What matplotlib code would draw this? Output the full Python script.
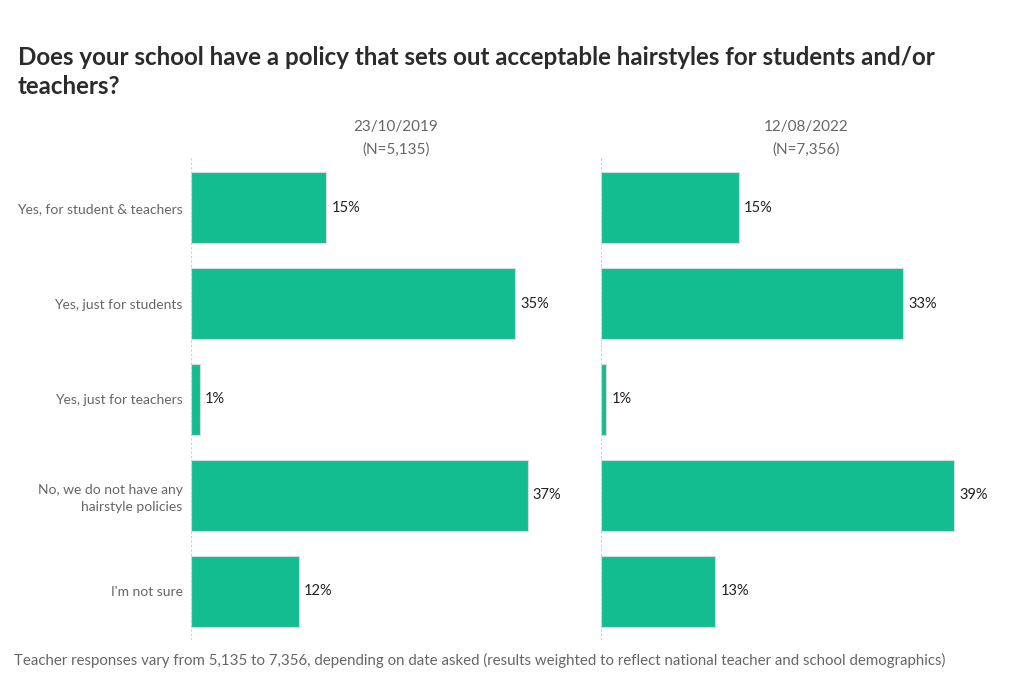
import matplotlib
matplotlib.use("Agg")
import matplotlib.pyplot as plt

# data
categories = ["Yes, for student & teachers", "Yes, just for students",
              "Yes, just for teachers", "No, we do not have any\nhairstyle policies",
              "I'm not sure"]
dates = ["23/10/2019", "12/08/2022"]
sample_sizes = ["(N=5,135)", "(N=7,356)"]
values_2019 = [14.8, 35.4, 1.0, 36.8, 11.8]
values_2022 = [15.1, 33.0, 0.6, 38.6, 12.5]

title = "Does your school have a policy that sets out acceptable hairstyles for students and/or\nteachers?"
footnote = ("Teacher responses vary from 5,135 to 7,356, depending on date asked "
            "(results weighted to reflect national teacher and school demographics)")

plt.rcParams['font.family'] = ['Lato', 'DejaVu Sans']

bar_color = "#13BD90"
grey = "#666666"
W, H = 1024, 683
fig = plt.figure(figsize=(W / 100, H / 100), dpi=100)

# panel positions in pixels (left, width)
panels = [(191, 380), (601, 380)]
top_px, bottom_px = 157, 640
xmax = 380 / 9.15

for i, (vals, (lpx, wpx)) in enumerate(zip([values_2019, values_2022], panels)):
    ax = fig.add_axes([lpx / W, 1 - bottom_px / H, wpx / W, (bottom_px - top_px) / H])
    y = range(len(categories))
    ax.barh(y, vals, height=0.74, color=bar_color, edgecolor="#d9d9d9", linewidth=0.8)
    for yy, v in zip(y, vals):
        ax.text(v + 0.55, yy, f"{int(v + 0.5)}%", va="center", ha="left",
                fontsize=10.5, color="#222222", clip_on=False)
    ax.set_xlim(0, xmax)
    ax.set_ylim(4.51, -0.53)
    ax.axvline(0, color="#cccccc", linestyle=(0, (2, 2)), linewidth=0.8)
    for s in ax.spines.values():
        s.set_visible(False)
    ax.set_xticks([])
    ax.tick_params(axis="y", length=0, pad=6)
    if i == 0:
        ax.set_yticks(list(y))
        ax.set_yticklabels(categories, fontsize=10, color=grey, linespacing=1.5)
    else:
        ax.set_yticks([])
    cx = (lpx + 205) / W
    fig.text(cx, 1 - 127 / H, dates[i], ha="center", va="center", fontsize=11, color=grey)
    fig.text(cx, 1 - 150 / H, sample_sizes[i], ha="center", va="center", fontsize=11, color=grey)

fig.text(18 / W, 1 - 72 / H, title, ha="left", va="center", fontsize=17.4,
         fontweight="bold", color="#2b2b2b", linespacing=1.35)
fig.text(14 / W, 1 - 660 / H, footnote, ha="left", va="center", fontsize=10.8, color=grey)

fig.savefig("out.png", dpi=100, facecolor="white")
